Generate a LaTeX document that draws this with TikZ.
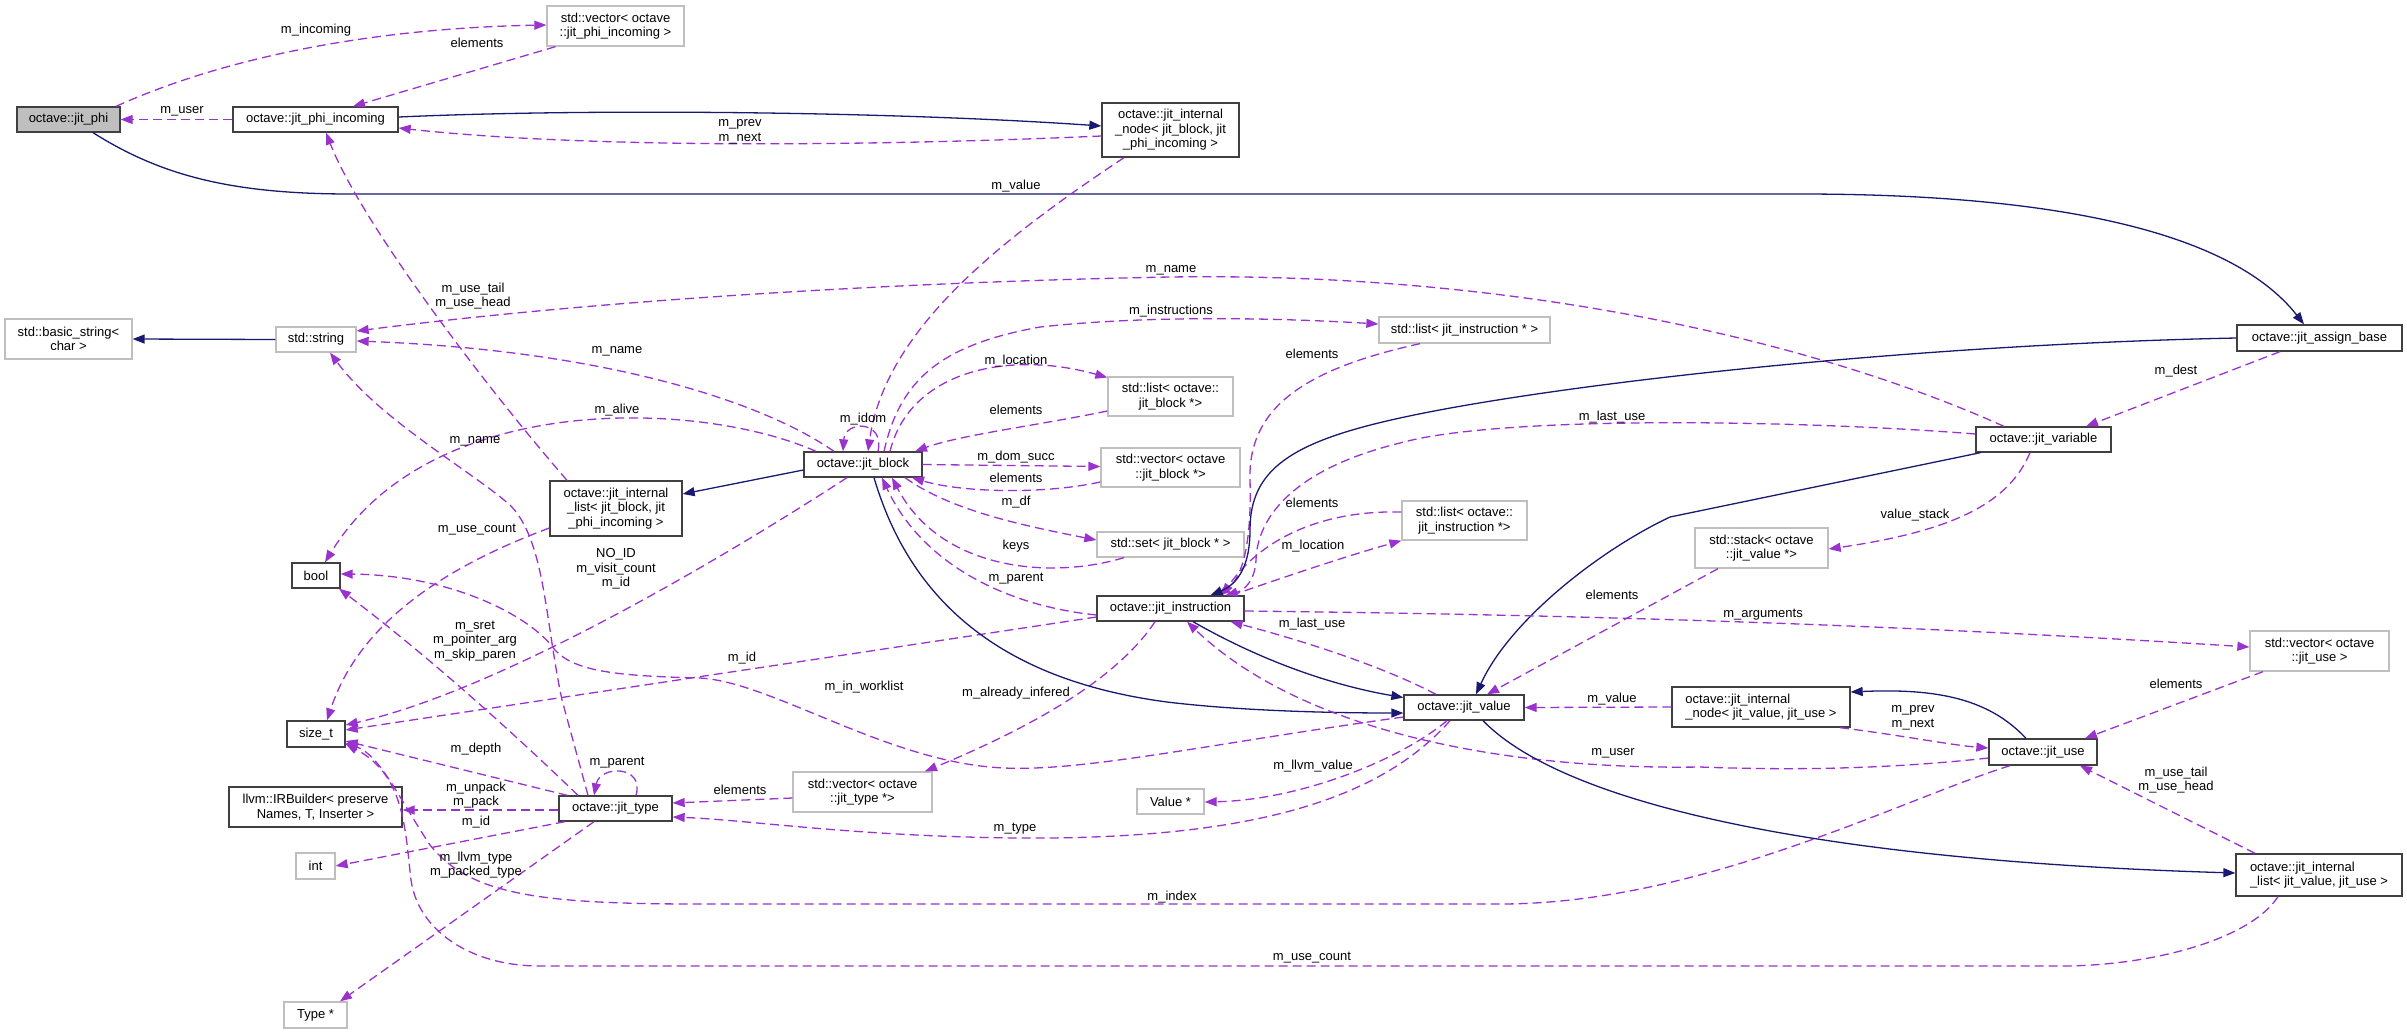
\documentclass[tikz,border=0pt]{standalone}
\usepackage{fontspec}
\setmainfont{Liberation Sans}
\usetikzlibrary{arrows.meta}
\definecolor{navy}{HTML}{191970}
\definecolor{purp}{HTML}{9A32CD}
\definecolor{bordg}{HTML}{BFBFBF}
\tikzset{
 cls/.style={draw=black!75, line width=1.3pt, fill=white, inner sep=2pt, align=center},
 ext/.style={draw=bordg, line width=1.3pt, fill=white, inner sep=2pt, align=center},
 inhedge/.style={draw=navy, line width=1.3pt, -{Triangle[length=12pt,width=9pt]}},
 usedge/.style={draw=purp, line width=1.3pt, dash pattern=on 9pt off 5pt, -{Triangle[length=12pt,width=9pt]}},
 lbl/.style={inner sep=0pt, align=center}
}
\begin{document}
\begin{tikzpicture}[x=1pt,y=-1pt,font=\fontsize{13}{14.5}\selectfont]
\useasboundingbox (0,0) rectangle (2407,1034);
% ---------- nodes ----------
\node[cls, fill=bordg, minimum width=103, minimum height=25] (phi) at (68.5,119.5) {octave::jit\_phi};
\node[ext, minimum width=137, minimum height=40] (vecphi) at (615.5,26) {std::vector< octave\\::jit\_phi\_incoming >};
\node[cls, minimum width=165, minimum height=25] (phiinc) at (315.5,119.5) {octave::jit\_phi\_incoming};
\node[cls, minimum width=137, minimum height=54] (inodeblk) at (1170.5,130) {octave::jit\_internal\\\_node< jit\_block, jit\\\_phi\_incoming >};
\node[ext, minimum width=127, minimum height=40] (bstring) at (68.5,339) {std::basic\_string<\\char >};
\node[ext, minimum width=80, minimum height=25] (string) at (316,339.5) {std::string};
\node[cls, minimum width=132, minimum height=55] (ilistblk) at (616,508.5) {octave::jit\_internal\\\_list< jit\_block, jit\\\_phi\_incoming >};
\node[cls, minimum width=118, minimum height=25] (jblock) at (863,464.5) {octave::jit\_block};
\node[cls, minimum width=48, minimum height=25] (bool) at (316,575.5) {bool};
\node[cls, minimum width=58, minimum height=26] (sizet) at (316,734) {size\_t};
\node[cls, minimum width=173, minimum height=40] (irb) at (315.5,807) {llvm::IRBuilder< preserve\\Names, T, Inserter >};
\node[ext, minimum width=39, minimum height=26] (int) at (315.5,866) {int};
\node[ext, minimum width=63, minimum height=26] (type) at (315.5,1015) {Type *};
\node[cls, minimum width=113, minimum height=25] (jtype) at (615.5,808.5) {octave::jit\_type};
\node[ext, minimum width=125, minimum height=39] (listblk) at (1170.5,396.5) {std::list< octave::\\jit\_block *>};
\node[ext, minimum width=139, minimum height=39] (vecblk) at (1170.5,467.5) {std::vector< octave\\::jit\_block *>};
\node[ext, minimum width=171, minimum height=26] (listinstr) at (1464.5,330) {std::list< jit\_instruction * >};
\node[ext, minimum width=147, minimum height=25] (setblk) at (1170.5,544.5) {std::set< jit\_block * >};
\node[cls, minimum width=147, minimum height=25] (jinstr) at (1170.5,608.5) {octave::jit\_instruction};
\node[ext, minimum width=139, minimum height=40] (vectype) at (862.5,792) {std::vector< octave\\::jit\_type *>};
\node[ext, minimum width=67, minimum height=25] (value) at (1170.5,801.5) {Value *};
\node[ext, minimum width=125, minimum height=39] (listinstr2) at (1464.5,520.5) {std::list< octave::\\jit\_instruction *>};
\node[ext, minimum width=133, minimum height=40] (stack) at (1761.5,548) {std::stack< octave\\::jit\_value *>};
\node[cls, minimum width=120, minimum height=25] (jvalue) at (1464,707.5) {octave::jit\_value};
\node[cls, minimum width=178, minimum height=40, align=left] (inodeval) at (1761,707) {octave::jit\_internal\\\_node< jit\_value, jit\_use >};
\node[ext, minimum width=139, minimum height=40] (vecuse) at (2319.5,651) {std::vector< octave\\::jit\_use >};
\node[cls, minimum width=108, minimum height=26] (juse) at (2043,752) {octave::jit\_use};
\node[cls, minimum width=166, minimum height=42, align=left] (ilistval) at (2319,875) {octave::jit\_internal\\\_list< jit\_value, jit\_use >};
\node[cls, minimum width=135, minimum height=25] (jvariable) at (2043.5,439.5) {octave::jit\_variable};
\node[cls, minimum width=165, minimum height=26] (assign) at (2319.5,338) {octave::jit\_assign\_base};
% ---------- edges ----------
\draw[usedge] ([xshift=47.5]phi.north) .. controls (230,55) and (380,28) .. ([yshift=1]vecphi.west);
\draw[usedge] ([xshift=-60]vecphi.south) -- ([xshift=37.5]phiinc.north);
\draw[usedge] (phiinc.west) -- (phi.east);
\draw[inhedge] ([yshift=2.5]phiinc.east) .. controls (600,108) and (900,112) .. ([yshift=4]inodeblk.west);
\draw[usedge] ([yshift=-6]inodeblk.west) .. controls (900,145) and (600,150) .. ([yshift=-8.5]phiinc.east);
\draw[inhedge] ([xshift=24.5]phi.south) .. controls (160,175) and (230,194) .. (350,194) -- (1800,194) .. controls (2050,194) and (2230,230) .. ([xshift=-15.5]assign.north);
\draw[usedge] ([xshift=-46.5]inodeblk.south) .. controls (1000,240) and (885,330) .. ([xshift=5]jblock.north);
\draw[usedge] ([xshift=-39.5]jvariable.north) .. controls (1800,335) and (1500,272) .. (1170,277) .. controls (900,282) and (600,300) .. ([yshift=8.5]string.east);
\draw[usedge] ([xshift=-49]ilistblk.north) .. controls (480,380) and (360,220) .. ([xshift=10.5]phiinc.south);
\draw[inhedge] (string.west) -- (bstring.east);
\draw[usedge] ([xshift=-29]jblock.north) .. controls (760,400) and (600,350) .. ([yshift=-1.5]string.east);
\draw[usedge] ([xshift=-47]jblock.north) .. controls (700,400) and (430,390) .. ([xshift=9]bool.north);
\draw[usedge] ([xshift=-27.5]jtype.north) -- (562,700) .. controls (545,620) and (545,540) .. (510,505) .. controls (470,470) and (380,420) .. ([xshift=14]string.south);
\draw[usedge] ([yshift=-19.5]ilistblk.west) .. controls (450,565) and (360,620) .. ([xshift=11]sizet.north);
\draw[usedge] ([xshift=-16]jblock.south) .. controls (720,560) and (500,690) .. ([yshift=9]sizet.east);
\draw[usedge] ([xshift=-37.5]jtype.north) .. controls (500,720) and (420,650) .. ([xshift=23]bool.south);
\draw[usedge] ([yshift=-9.5]jvalue.west) .. controls (1200,745) and (1070,775) .. (990,767) .. controls (880,757) and (770,682) .. (700,678) .. controls (620,676) and (575,672) .. (555,650) .. controls (530,615) and (450,575) .. ([yshift=1.5]bool.east);
\draw[usedge] ([yshift=-8.5]jinstr.west) -- ([yshift=4]sizet.east);
\draw[usedge] ([xshift=-48]jtype.north) -- ([yshift=-7]sizet.east);
\draw[usedge] ([yshift=-1.5]jtype.west) -- ([yshift=-3]irb.east);
\draw[usedge] ([xshift=-50.5]jtype.south) -- (int.east);
\draw[usedge] ([xshift=-21.5]jtype.south) -- ([xshift=24.5]type.north);
\draw[usedge] ([xshift=20.5]jtype.north) .. controls (645,765) and (600,765) .. ([xshift=-21.5]jtype.north);
\draw[usedge] ([xshift=-14]jvalue.south) .. controls (1380,800) and (1250,840) .. (1015,838) .. controls (850,836) and (750,820) .. ([yshift=-8.5]jtype.east);
\draw[usedge] ([yshift=-6]vectype.west) -- ([yshift=5.5]jtype.east);
\draw[usedge] ([xshift=-15.5]jinstr.south) .. controls (1110,690) and (1000,740) .. ([xshift=62.5]vectype.north);
\draw[usedge] ([yshift=-6.5]jinstr.west) .. controls (1000,605) and (920,560) .. ([xshift=19]jblock.south);
\draw[usedge] ([xshift=-46.5]setblk.south) .. controls (1050,580) and (940,570) .. ([xshift=29]jblock.south);
\draw[usedge] ([xshift=42]jblock.south) .. controls (950,510) and (1020,525) .. ([yshift=4.5]setblk.west);
\draw[usedge] ([yshift=-14.5]vecblk.west) .. controls (1040,495) and (960,492) .. ([xshift=49]jblock.south);
\draw[usedge] (jblock.east) -- ([yshift=1]vecblk.west);
\draw[usedge] ([yshift=-14.5]listblk.west) .. controls (1040,425) and (960,435) .. ([xshift=52]jblock.north);
\draw[usedge] ([xshift=27]jblock.north) .. controls (910,370) and (1010,350) .. ([yshift=19]listblk.west);
\draw[usedge] ([xshift=21]jblock.north) .. controls (900,380) and (940,345) .. (1040,327) .. controls (1150,315) and (1280,318) .. ([yshift=6]listinstr.west);
\draw[usedge] ([xshift=15]jblock.north) .. controls (885,420) and (845,420) .. ([xshift=-20]jblock.north);
\draw[inhedge] ([yshift=-5.5]jblock.west) -- ([yshift=14.5]ilistblk.east);
\draw[inhedge] ([xshift=11]jblock.south) .. controls (910,600) and (1000,680) .. (1167,702) .. controls (1250,712) and (1350,713) .. ([yshift=-5.5]jvalue.west);
\draw[inhedge] ([xshift=22.5]jinstr.south) .. controls (1260,660) and (1330,685) .. ([yshift=10]jvalue.west);
\draw[usedge] ([xshift=-28]jvalue.north) .. controls (1380,665) and (1300,640) .. ([xshift=60]jinstr.south);
\draw[usedge] ([yshift=-6]juse.west) .. controls (1880,770) and (1780,770) .. (1700,767) .. controls (1500,770) and (1300,730) .. ([xshift=16.5]jinstr.south);
\draw[usedge] ([xshift=61]jinstr.north) .. controls (1290,575) and (1350,555) .. (listinstr2.south west);
\draw[usedge] ([xshift=-44.5]listinstr.south) .. controls (1300,370) and (1248,410) .. (1250,480) .. controls (1252,550) and (1240,580) .. ([xshift=47.5]jinstr.north);
\draw[usedge] ([yshift=5.5]jvariable.west) .. controls (1800,420) and (1500,415) .. (1400,443) .. controls (1290,470) and (1257,520) .. (1256,560) .. controls (1255,580) and (1245,590) .. ([xshift=55]jinstr.north);
\draw[usedge] ([yshift=8.5]listinstr2.west) .. controls (1320,510) and (1260,540) .. ([xshift=51.5]jinstr.north);
\draw[inhedge] (assign.west) .. controls (1900,345) and (1550,385) .. (1400,418) .. controls (1290,442) and (1250,470) .. (1250,530) .. controls (1250,570) and (1235,585) .. ([xshift=40]jinstr.north);
\draw[inhedge] ([xshift=-63]jvariable.south) -- (1670,517) .. controls (1600,550) and (1510,620) .. ([xshift=12]jvalue.north);
\draw[usedge] ([xshift=-13.5]jvariable.south) .. controls (2010,500) and (1960,530) .. ([yshift=-1]stack.east);
\draw[usedge] ([xshift=-43.5]stack.south) -- ([xshift=23]jvalue.north);
\draw[usedge] ([yshift=-2.5]jinstr.east) .. controls (1600,615) and (1900,625) .. ([yshift=4]vecuse.west);
\draw[usedge] ([xshift=-39.5]assign.south) -- ([xshift=42.5]jvariable.north);
\draw[usedge] (inodeval.west) -- (jvalue.east);
\draw[inhedge] ([xshift=-17]juse.north) .. controls (1990,700) and (1940,688) .. ([yshift=15]inodeval.east);
\draw[usedge] ([xshift=79]inodeval.south) .. controls (1900,735) and (1950,745) .. ([yshift=4]juse.west);
\draw[usedge] ([xshift=-56.5]vecuse.south) -- ([xshift=42]juse.north);
\draw[usedge] ([xshift=-64]ilistval.north) -- ([xshift=37]juse.south);
\draw[inhedge] ([xshift=19]jvalue.south) .. controls (1560,800) and (1800,860) .. ([yshift=2]ilistval.west);
\draw[usedge] ([xshift=-33]juse.south) .. controls (1900,800) and (1700,904) .. (1500,904) -- (700,904) .. controls (540,904) and (470,895) .. (430,845) .. controls (400,800) and (380,755) .. ([yshift=-9]sizet.east);
\draw[usedge] ([xshift=-41]ilistval.south) .. controls (2250,940) and (2150,966) .. (2061,966) -- (540,966) .. controls (470,966) and (418,930) .. (411,880) .. controls (405,830) and (405,775) .. ([yshift=-10]sizet.east);
\draw[usedge] ([xshift=-17]jvalue.south) .. controls (1400,760) and (1300,800) .. ([yshift=-0.5]value.east);
% ---------- labels ----------
\node[lbl] (l01) at (316,30) {m\_incoming};
\node[lbl] (l02) at (477,43) {elements};
\node[lbl] (l03) at (182,111) {m\_user};
\node[lbl] (l04) at (740,132) {m\_prev\\m\_next};
\node[lbl] (l05) at (1016,186) {m\_value};
\node[lbl] (l06) at (1171,270) {m\_name};
\node[lbl] (l07) at (1171,311) {m\_instructions};
\node[lbl] (l08) at (473,296) {m\_use\_tail\\m\_use\_head};
\node[lbl] (l09) at (617,351) {m\_name};
\node[lbl] (l10) at (1312,354) {elements};
\node[lbl] (l11) at (1016,361) {m\_location};
\node[lbl] (l12) at (2176,371) {m\_dest};
\node[lbl] (l13) at (1016,410) {elements};
\node[lbl] (l14) at (617,410) {m\_alive};
\node[lbl] (l15) at (1612,417) {m\_last\_use};
\node[lbl] (l16) at (863,419) {m\_idom};
\node[lbl] (l17) at (475,441) {m\_name};
\node[lbl] (l18) at (1016,457) {m\_dom\_succ};
\node[lbl] (l19) at (1016,478) {elements};
\node[lbl] (l20) at (1016,502) {m\_df};
\node[lbl] (l21) at (1312,503) {elements};
\node[lbl] (l22) at (1915,515) {value\_stack};
\node[lbl] (l23) at (477,530) {m\_use\_count};
\node[lbl] (l24) at (1016,546) {keys};
\node[lbl] (l25) at (1313,546) {m\_location};
\node[lbl] (l26) at (616,569) {NO\_ID\\m\_visit\_count\\m\_id};
\node[lbl] (l27) at (1016,579) {m\_parent};
\node[lbl] (l28) at (1612,595) {elements};
\node[lbl] (l29) at (1763,615) {m\_arguments};
\node[lbl] (l30) at (1312,624) {m\_last\_use};
\node[lbl] (l31) at (475,641) {m\_sret\\m\_pointer\_arg\\m\_skip\_paren};
\node[lbl] (l32) at (742,658) {m\_id};
\node[lbl] (l33) at (2176,684) {elements};
\node[lbl] (l34) at (864,687) {m\_in\_worklist};
\node[lbl] (l35) at (1016,693) {m\_already\_infered};
\node[lbl] (l36) at (1612,699) {m\_value};
\node[lbl] (l37) at (1913,718) {m\_prev\\m\_next};
\node[lbl] (l38) at (476,749) {m\_depth};
\node[lbl] (l39) at (1613,753) {m\_user};
\node[lbl] (l40) at (617,763) {m\_parent};
\node[lbl] (l41) at (1313,766) {m\_llvm\_value};
\node[lbl] (l42) at (2176,780) {m\_use\_tail\\m\_use\_head};
\node[lbl] (l43) at (740,790) {elements};
\node[lbl] (l44) at (476,795) {m\_unpack\\m\_pack};
\node[lbl] (l45) at (476,822) {m\_id};
\node[lbl] (l46) at (1015,829) {m\_type};
\node[lbl] (l47) at (476,865) {m\_llvm\_type\\m\_packed\_type};
\node[lbl] (l48) at (1172,897) {m\_index};
\node[lbl] (l49) at (1312,958) {m\_use\_count};
\end{tikzpicture}
\end{document}
